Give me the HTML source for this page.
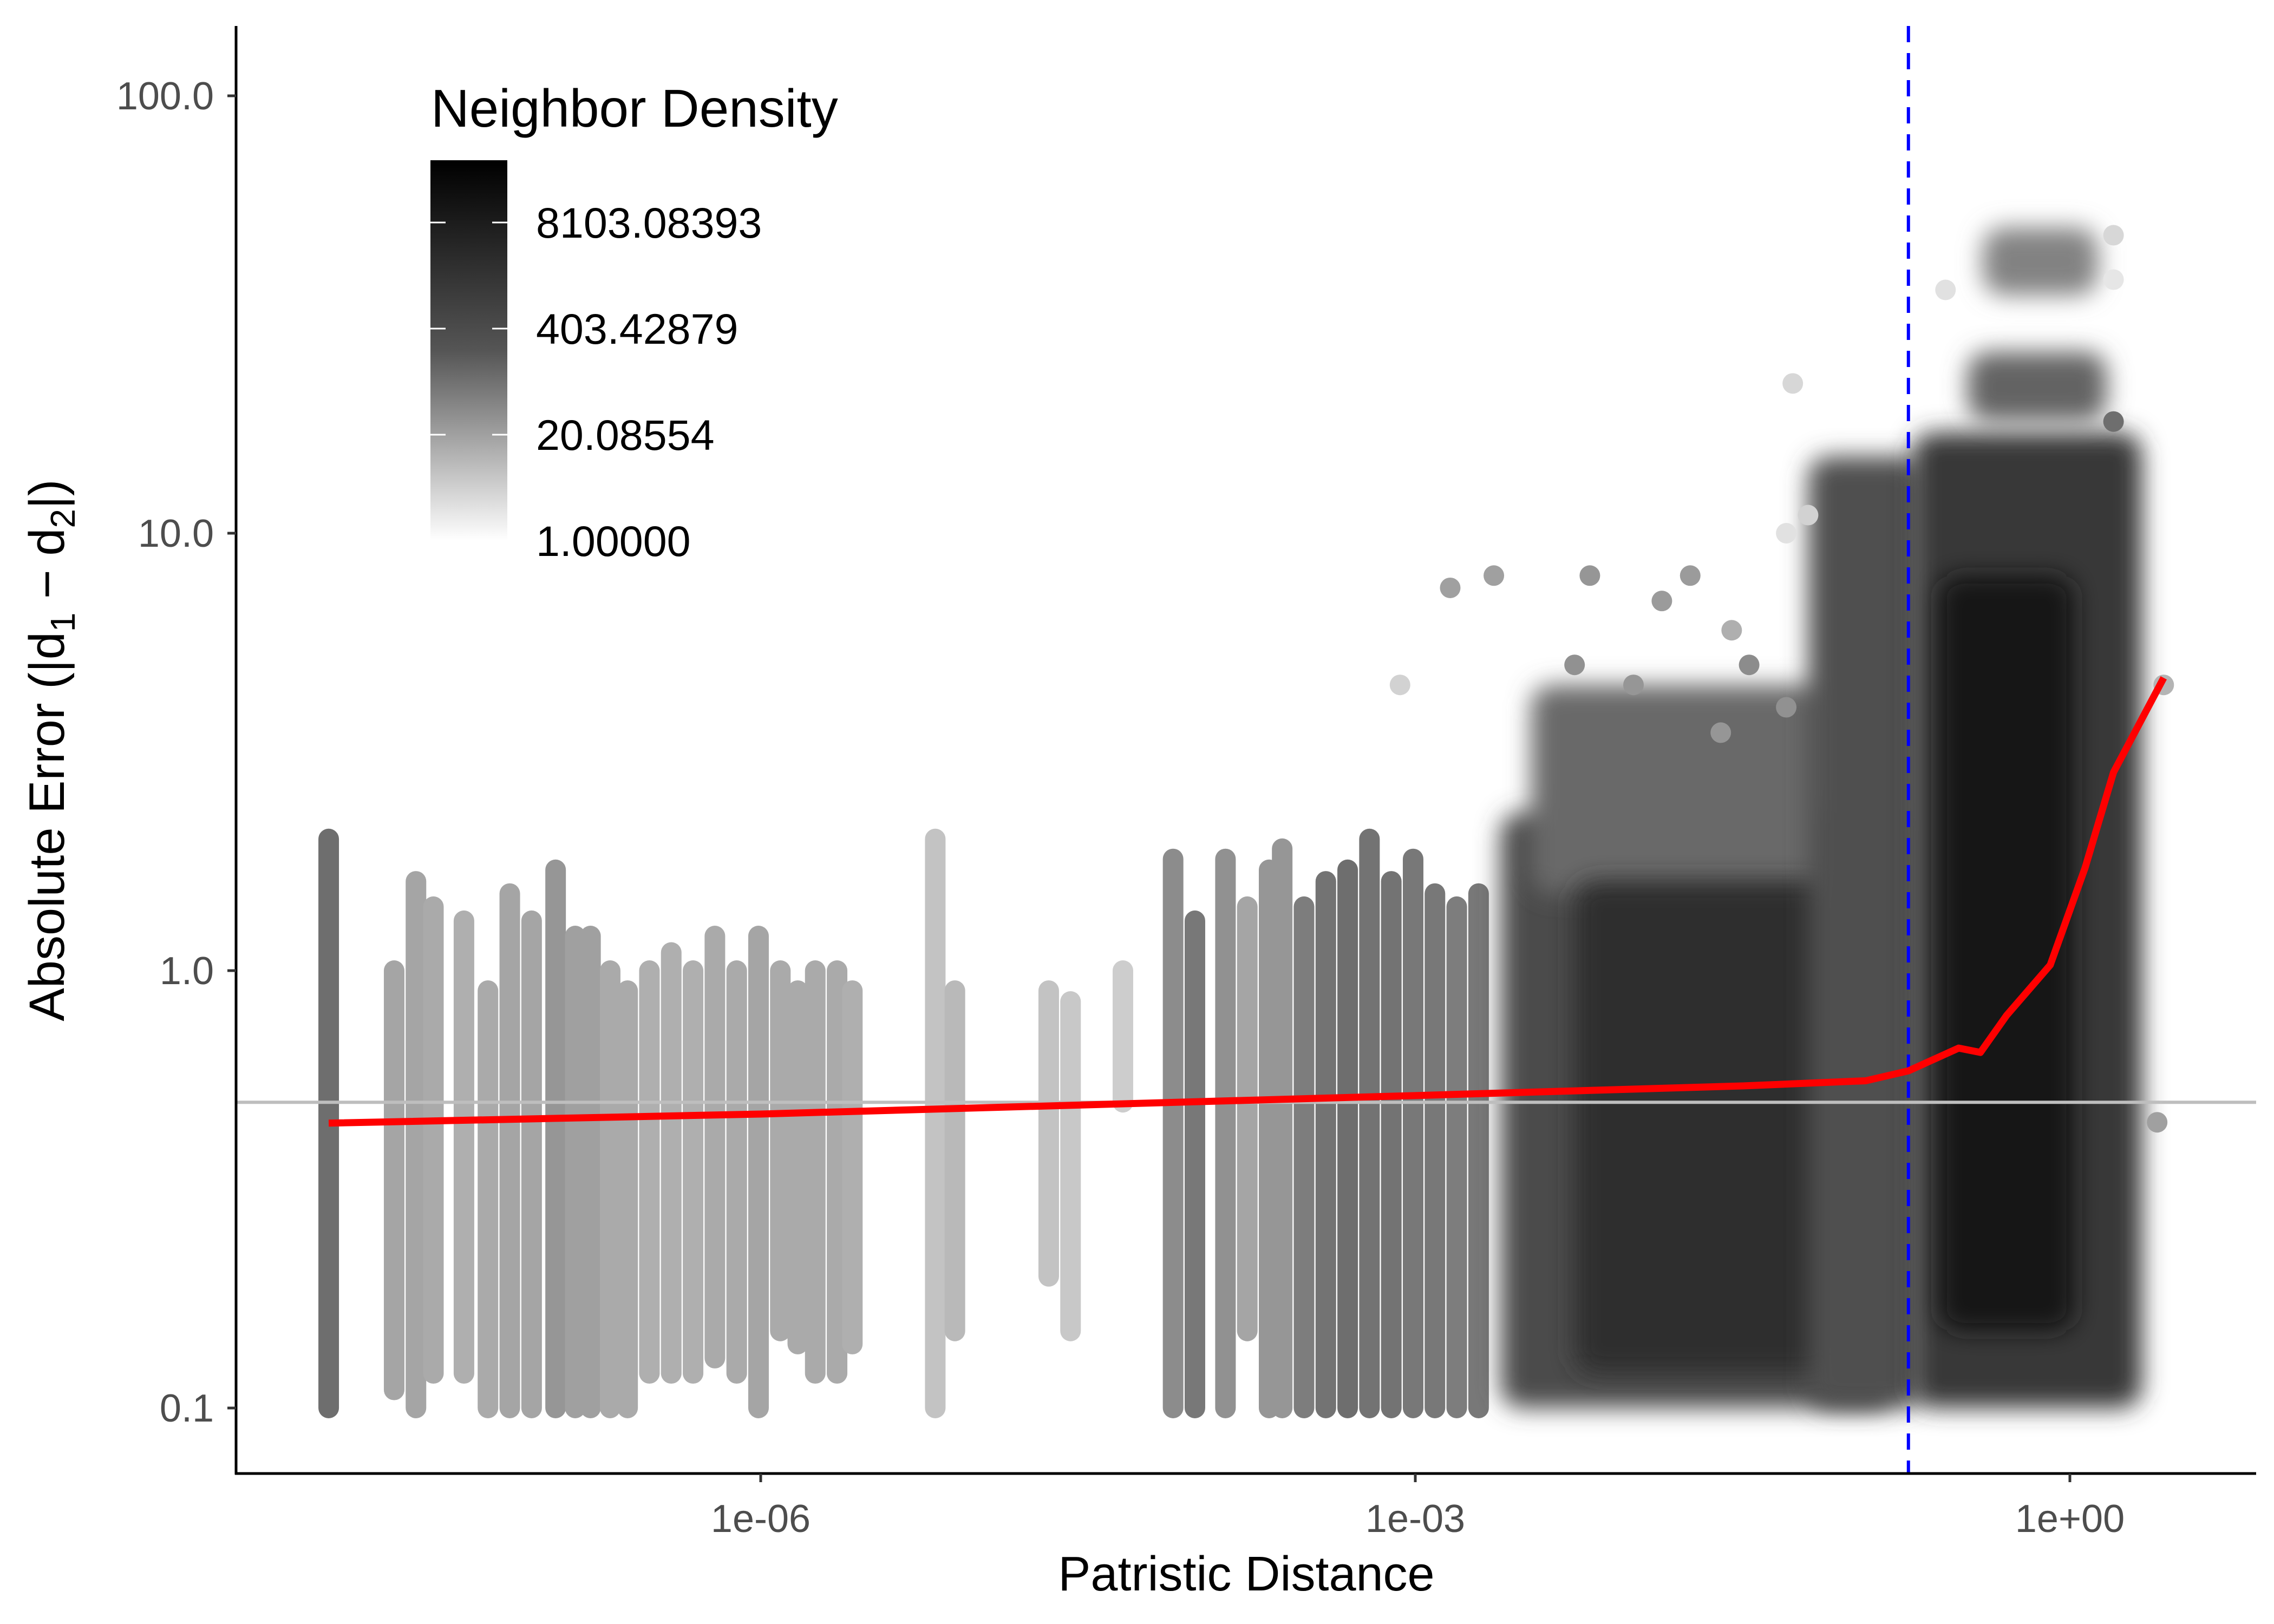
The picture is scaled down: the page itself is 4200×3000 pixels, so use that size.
<!DOCTYPE html>
<html><head><meta charset="utf-8"><style>
html,body{margin:0;padding:0;background:#fff;}
svg{display:block;font-family:"Liberation Sans",sans-serif;}
</style></head><body>
<svg id="chart" width="4200" height="3000" viewBox="0 0 4200 3000" xmlns="http://www.w3.org/2000/svg">
<defs>
<linearGradient id="cbar" x1="0" y1="0" x2="0" y2="1">
<stop offset="0" stop-color="#000"/><stop offset="0.5" stop-color="#555"/><stop offset="1" stop-color="#fff"/>
</linearGradient>
<filter id="soft" filterUnits="userSpaceOnUse" x="0" y="0" width="4200" height="3000"><feGaussianBlur stdDeviation="22"/></filter>
</defs>
<g id="marks"></g>
<g id="axes"></g>
</svg>
<script>
// ---- data ----
const colLogX = [-7.98,-7.68,-7.58,-7.50,-7.36,-7.25,-7.15,-7.05,-6.94,-6.85,-6.78,-6.69,-6.61,-6.51,-6.41,-6.31,-6.21,-6.11,-6.01,-5.91,-5.83,-5.75,-5.65,-5.58,-5.20,-5.11,-4.68,-4.58,-4.34,-4.11,-4.01,-3.87,-3.77,-3.67,-3.61,-3.51,-3.41,-3.31,-3.21,-3.11,-3.01,-2.91,-2.81,-2.71];
const colLo  = [0.1,0.11,0.1,0.12,0.12,0.1,0.1,0.1,0.1,0.1,0.1,0.1,0.1,0.12,0.12,0.12,0.13,0.12,0.1,0.15,0.14,0.12,0.12,0.14,0.1,0.15,0.2,0.15,0.5,0.1,0.1,0.1,0.15,0.1,0.1,0.1,0.1,0.1,0.1,0.1,0.1,0.1,0.1,0.1];
const colHi  = [2.0,1.0,1.6,1.4,1.3,0.9,1.5,1.3,1.7,1.2,1.2,1.0,0.9,1.0,1.1,1.0,1.2,1.0,1.2,1.0,0.9,1.0,1.0,0.9,2.0,0.9,0.9,0.85,1.0,1.8,1.3,1.8,1.4,1.7,1.9,1.4,1.6,1.7,2.0,1.6,1.8,1.5,1.4,1.5];
const colGray= [110,165,165,170,175,170,165,165,150,160,160,170,170,175,175,175,170,170,165,170,170,170,170,175,195,185,195,200,205,140,120,145,165,150,150,125,115,110,115,115,120,120,125,120];
const blobX1 = [-2.61,-2.47,-2.27,-1.20,-0.72,-0.60,-0.47,-0.40];
const blobX2 = [-0.80,-1.07,-1.07,-0.67,0.33,0.02,0.17,0.13];
const blobLo = [0.1,1.5,0.12,0.1,0.1,0.15,18,35];
const blobHi = [2.3,4.5,1.6,15,17,8,26,50];
const blobGray=[75,105,45,80,55,22,100,130];
const ptLogX = [-1.27,-3.07,-2.84,-2.64,-2.20,-1.87,-1.74,-2.27,-2.00,-1.47,-1.30,-1.30,-1.20,-0.57,0.20,0.20,0.20,0.43,0.40,-1.60,-1.55];
const ptY    = [22,4.5,7.5,8,8,7,8,5,4.5,5,4,10,11,36,38,48,18,4.5,0.45,3.5,6];
const ptGray = [215,210,160,160,150,155,155,145,150,140,145,225,210,225,230,215,110,180,160,150,175];
const fitLogX = [-7.98,-6.0,-3.0,-1.5,-0.935,-0.74,-0.51,-0.41,-0.29,-0.09,0.07,0.20,0.43];
const fitY    = [0.448,0.47,0.518,0.545,0.56,0.59,0.665,0.65,0.79,1.03,1.72,2.84,4.67];
const yTicks = [100,10,1,0.1];
const yTickLabels = ["100.0","10.0","1.0","0.1"];
const xTicks = [-6,-3,0];
const xTickLabels = ["1e-06","1e-03","1e+00"];
const refY = 0.5;
const refLogX = -0.74;
const legendVals = [0,3,6,9];
const legendLabels = ["1.00000","20.08554","403.42879","8103.08393"];

// ---- scales ----
const X = lx => 3823 + 403*lx;
const Y = v => 1793 - 808*Math.log10(v);
const NS = "http://www.w3.org/2000/svg";
const marks = document.getElementById('marks');
const axes = document.getElementById('axes');
function mk(tag, attrs, parent){const e=document.createElementNS(NS,tag);for(const k in attrs)e.setAttribute(k,attrs[k]);parent.appendChild(e);return e;}
const g = v => `rgb(${v},${v},${v})`;

for(let i=0;i<colLogX.length;i++){
  const e = mk('line',{x1:X(colLogX[i]),x2:X(colLogX[i]),y1:Y(colLo[i]),y2:Y(colHi[i]),stroke:g(colGray[i]),'stroke-width':38,'stroke-linecap':'round'},marks);
  
  
}
for(let i=0;i<blobX1.length;i++){
  const x1=X(blobX1[i]),x2=X(blobX2[i]),y1=Y(blobHi[i]),y2=Y(blobLo[i]);
  const e = mk('rect',{x:x1,y:y1,width:x2-x1,height:y2-y1,rx:40,fill:g(blobGray[i]),filter:'url(#soft)'},marks);
  
  
}
for(let i=0;i<ptLogX.length;i++){
  const e = mk('circle',{cx:X(ptLogX[i]),cy:Y(ptY[i]),r:19,fill:g(ptGray[i])},marks);
  
  
}
let e = mk('line',{x1:436,x2:4167,y1:Y(refY),y2:Y(refY),stroke:'#bebebe','stroke-width':6},marks);


e = mk('line',{x1:X(refLogX),x2:X(refLogX),y1:48,y2:2720,stroke:'#0000ff','stroke-width':6,'stroke-dasharray':'30 20'},marks);


e = mk('polyline',{points:fitLogX.map((lx,i)=>X(lx)+','+Y(fitY[i])).join(' '),fill:'none',stroke:'#ff0000','stroke-width':13,'stroke-linejoin':'round'},marks);



// axes
e = mk('line',{x1:436,x2:436,y1:48,y2:2724,stroke:'#000','stroke-width':5},axes);


e = mk('line',{x1:434,x2:4167,y1:2722,y2:2722,stroke:'#000','stroke-width':5},axes);


yTicks.forEach((v,i)=>{
  const t = mk('line',{x1:420,x2:436,y1:Y(v),y2:Y(v),stroke:'#333','stroke-width':5},axes);
  
  
  const l = mk('text',{x:395,y:Y(v)+25,'text-anchor':'end','font-size':72,fill:'#4d4d4d'},axes);
  l.textContent = yTickLabels[i];
  
  
});
xTicks.forEach((v,i)=>{
  const t = mk('line',{x1:X(v),x2:X(v),y1:2722,y2:2738,stroke:'#333','stroke-width':5},axes);
  
  
  const l = mk('text',{x:X(v),y:2830,'text-anchor':'middle','font-size':72,fill:'#4d4d4d'},axes);
  l.textContent = xTickLabels[i];
  
  
});
e = mk('text',{x:2302,y:2938,'text-anchor':'middle','font-size':90,fill:'#000'},axes);
e.textContent='Patristic Distance';


e = mk('text',{x:0,y:0,'text-anchor':'middle','font-size':92,fill:'#000',transform:'translate(118,1386) rotate(-90)'},axes);
e.innerHTML='Absolute Error (|d<tspan font-size="64" dy="20">1</tspan><tspan dy="-20"> \u2212 d</tspan><tspan font-size="64" dy="20">2</tspan><tspan dy="-20">|)</tspan>';



// legend
const lg = mk('g',{},axes);


e = mk('text',{x:796,y:234,'font-size':98,fill:'#000'},lg);
e.textContent='Neighbor Density';


e = mk('rect',{x:795,y:296,width:142,height:703,fill:'url(#cbar)'},lg);


const LY = v => 999 - 196/3*v;
legendVals.forEach((v,i)=>{
  const y = LY(v);
  if(v>0){
    let t = mk('line',{x1:795,x2:823,y1:y,y2:y,stroke:'#fff','stroke-width':3},lg);
    
    
    t = mk('line',{x1:909,x2:937,y1:y,y2:y,stroke:'#fff','stroke-width':3},lg);
    
    
  }
  const l = mk('text',{x:990,y:y+28,'font-size':79,fill:'#000'},lg);
  l.textContent = legendLabels[i];
  
  
});
</script>
</body></html>
